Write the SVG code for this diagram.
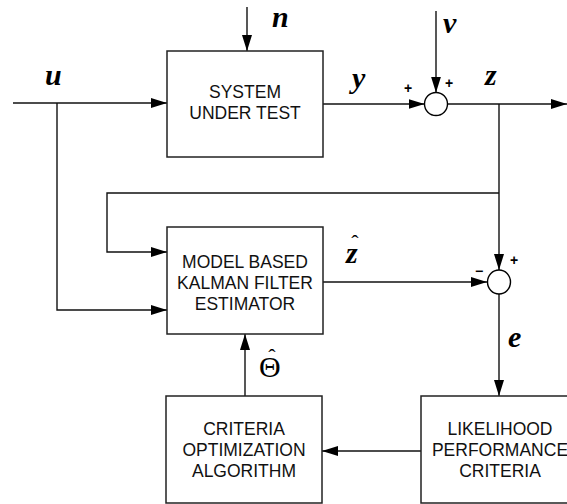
<svg xmlns="http://www.w3.org/2000/svg" width="567" height="504" viewBox="0 0 567 504">
  <defs>
    <marker id="arrow" viewBox="0 0 16 10" refX="16" refY="5" markerWidth="16" markerHeight="10" markerUnits="userSpaceOnUse" orient="auto">
      <path d="M0,0 L16,5 L0,10 Z" fill="#000"/>
    </marker>
    <style>
      .box { fill: #fff; stroke: #222; stroke-width: 1.5; }
      .sum { fill: #fff; stroke: #000; stroke-width: 1.4; }
      .wire { fill: none; stroke: #111; stroke-width: 1.4; }
      .label { font-family: "Liberation Sans", Arial, sans-serif; font-size: 17.5px; fill: #111; text-anchor: middle; }
      .sig { font-family: "Liberation Serif", "Times New Roman", serif; font-size: 30px; font-weight: bold; font-style: italic; fill: #000; }
      .sign { font-family: "Liberation Sans", Arial, sans-serif; font-size: 14px; font-weight: bold; fill: #000; text-anchor: middle; }
      .est { font-family: "Liberation Serif", "Times New Roman", serif; font-size: 30px; fill: #000; }
      .hat { font-family: "Liberation Serif", "Times New Roman", serif; font-size: 22px; font-weight: normal; font-style: normal; text-anchor: middle; }
    </style>
  </defs>

  <g id="connectors">
    <!-- u input to system, branch to estimator -->
    <line class="wire" x1="13" y1="103" x2="167" y2="103" marker-end="url(#arrow)"/>
    <polyline class="wire" points="57,103 57,310 167,310" marker-end="url(#arrow)"/>
    <!-- process noise n -->
    <line class="wire" x1="247" y1="7" x2="247" y2="51" marker-end="url(#arrow)"/>
    <!-- y to summing junction -->
    <line class="wire" x1="323" y1="104" x2="424.5" y2="104" marker-end="url(#arrow)"/>
    <!-- measurement noise v -->
    <line class="wire" x1="436" y1="11" x2="436" y2="92.5" marker-end="url(#arrow)"/>
    <!-- z output -->
    <line class="wire" x1="447.5" y1="104" x2="567" y2="104" marker-end="url(#arrow)"/>
    <!-- z to residual junction -->
    <line class="wire" x1="499" y1="104" x2="499" y2="270" marker-end="url(#arrow)"/>
    <!-- z fed back to estimator -->
    <polyline class="wire" points="499,193 107,193 107,252 167,252" marker-end="url(#arrow)"/>
    <!-- z-hat to residual junction -->
    <line class="wire" x1="323" y1="282" x2="487" y2="282" marker-end="url(#arrow)"/>
    <!-- residual e to likelihood -->
    <line class="wire" x1="499" y1="294" x2="499" y2="396" marker-end="url(#arrow)"/>
    <!-- likelihood to optimizer -->
    <line class="wire" x1="421" y1="451" x2="322" y2="451" marker-end="url(#arrow)"/>
    <!-- theta-hat to estimator -->
    <line class="wire" x1="245" y1="396" x2="245" y2="334" marker-end="url(#arrow)"/>
  </g>

  <g id="system-under-test">
    <rect class="box" x="167" y="51" width="156" height="106"/>
    <text class="label" x="245" y="98">SYSTEM</text>
    <text class="label" x="245" y="119">UNDER TEST</text>
  </g>

  <g id="kalman-estimator">
    <rect class="box" x="167" y="227" width="156" height="107"/>
    <text class="label" x="245" y="268">MODEL BASED</text>
    <text class="label" x="245" y="289">KALMAN FILTER</text>
    <text class="label" x="245" y="310">ESTIMATOR</text>
  </g>

  <g id="optimizer">
    <rect class="box" x="166" y="396" width="156" height="107"/>
    <text class="label" x="244" y="435">CRITERIA</text>
    <text class="label" x="244" y="456">OPTIMIZATION</text>
    <text class="label" x="244" y="477">ALGORITHM</text>
  </g>

  <g id="likelihood">
    <rect class="box" x="421" y="396" width="157" height="107"/>
    <text class="label" x="500" y="435">LIKELIHOOD</text>
    <text class="label" x="500" y="456">PERFORMANCE</text>
    <text class="label" x="500" y="477">CRITERIA</text>
  </g>

  <g id="sum-output">
    <circle class="sum" cx="436" cy="104" r="11.5"/>
    <text class="sign" x="408" y="93">+</text>
    <text class="sign" x="449" y="88">+</text>
  </g>

  <g id="sum-residual">
    <ellipse class="sum" cx="499" cy="282" rx="11.5" ry="12"/>
    <text class="sign" x="479" y="276">−</text>
    <text class="sign" x="514" y="265">+</text>
  </g>

  <g id="signal-labels">
    <text class="sig" x="45" y="85">u</text>
    <text class="sig" x="272" y="27">n</text>
    <text class="sig" x="352" y="88">y</text>
    <text class="sig" x="443" y="33">v</text>
    <text class="sig" x="485" y="85">z</text>
    <!-- estimates carry a circumflex accent set above the symbol -->
    <text class="sig"><tspan x="346" y="263">z</tspan><tspan class="hat" x="355" y="250">ˆ</tspan></text>
    <text class="sig" x="508" y="347">e</text>
    <text class="est"><tspan x="259" y="377">Θ</tspan><tspan class="hat" x="272" y="364">ˆ</tspan></text>
  </g>
</svg>
